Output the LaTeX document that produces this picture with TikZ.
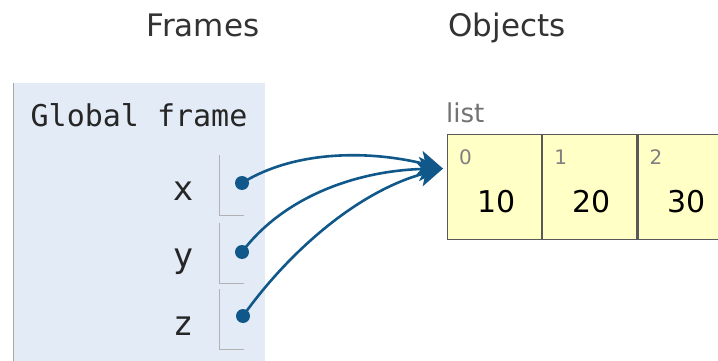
\documentclass[tikz,border=0pt]{standalone}
\usepackage{fontspec}
\setmainfont{DejaVu Sans}
\setmonofont{DejaVu Sans Mono}
\usetikzlibrary{arrows.meta,positioning}
\definecolor{framebg}{HTML}{E2EBF6}
\definecolor{cellbg}{HTML}{FFFFC6}
\definecolor{ptrcol}{HTML}{11588A}
\definecolor{headcol}{HTML}{333333}

\begin{document}
\begin{tikzpicture}[x=1pt,y=-1pt, >=Latex,
    head/.style={text=headcol, anchor=base, font=\fontsize{31}{33}\selectfont},
    varname/.style={font=\ttfamily\fontsize{34}{36}\selectfont, anchor=base, text=black!85},
    slot/.style={draw=gray!60, line width=1pt},
    ptrdot/.style={circle, fill=ptrcol, inner sep=0pt, minimum size=14pt},
    ptr/.style={draw=ptrcol, line width=2.6pt, -{Stealth[length=24pt,width=24pt,inset=6pt]}},
    cell/.style={draw=black!65, line width=1.2pt, fill=cellbg, minimum width=94pt, minimum height=105pt, inner sep=0pt},
    idx/.style={text=gray, anchor=base west, inner sep=0pt, font=\fontsize{20}{22}\selectfont},
    val/.style={anchor=base, inner sep=0pt, font=\fontsize{30}{32}\selectfont}]
  \clip (0,0) rectangle (718,361);
  \fill[white] (0,0) rectangle (718,361);
  % headers
  \node[head] (frames) at (203,37) {Frames};
  \node[head] (objects) at (507,37) {Objects};
  % global frame
  \fill[framebg] (13,83) rectangle (265,370);
  \draw[gray!70, line width=1pt] (13.5,83) -- (13.5,370);
  \node[font=\ttfamily\fontsize{30}{32}\selectfont, anchor=base, text=black!85] (gf) at (139,126) {Global frame};
  \node[varname] (vx) at (183,200) {x};
  \node[varname] (vy) at (183,267) {y};
  \node[varname] (vz) at (183,335) {z};
  \draw[slot] (219,155) -- (219,215) -- (244,215);
  \draw[slot] (219,223) -- (219,283) -- (244,283);
  \draw[slot] (219,289) -- (219,349) -- (244,349);
  \node[ptrdot] (dx) at (242,183) {};
  \node[ptrdot] (dy) at (242,252) {};
  \node[ptrdot] (dz) at (243,316) {};
  % list object
  \node[text=gray!90!black, font=\fontsize{26}{28}\selectfont, anchor=base west, inner sep=0pt] (lst) at (446,122) {list};
  \node[cell, anchor=north west] (c0) at (447,134) {};
  \node[cell, right=0pt of c0] (c1) {};
  \node[cell, right=0pt of c1] (c2) {};
  \foreach \i/\v in {0/10,1/20,2/30} {
    \node[idx] at ([shift={(12,30)}]c\i.north west) {\i};
    \node[val] at ([shift={(1.5,25.5)}]c\i.center) {\v};
  }
  \coordinate (tip) at ([shift={(-4,-18.5)}]c0.west);
  % pointers
  \draw[ptr] (dx.center) .. controls (295,150) and (370,150) .. (tip);
  \draw[ptr] (dy.center) .. controls (285,195) and (360,170) .. (tip);
  \draw[ptr] (dz.center) .. controls (290,250) and (360,190) .. (tip);
\end{tikzpicture}
\end{document}
